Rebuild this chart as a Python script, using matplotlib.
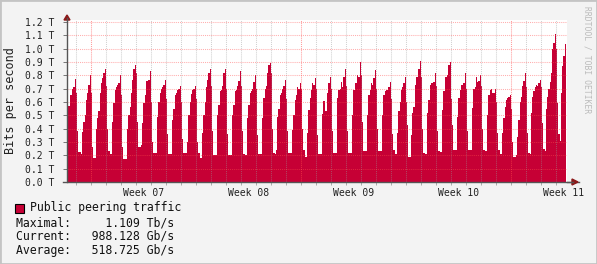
import matplotlib.pyplot as plt
import numpy as np
from matplotlib.patches import Polygon, Rectangle

# 2-hour samples, one row per day (starts right after the evening peak, ends on the peak)
first_part = [0.54, 0.57, 0.65, 0.65, 0.70, 0.71, 0.77]
days = [
    [0.67, 0.38, 0.225, 0.225, 0.21, 0.375, 0.45, 0.50, 0.615, 0.67, 0.73, 0.80],
    [0.67, 0.26, 0.18, 0.18, 0.40, 0.48, 0.53, 0.665, 0.74, 0.78, 0.815, 0.85],
    [0.72, 0.40, 0.23, 0.21, 0.21, 0.45, 0.59, 0.69, 0.715, 0.73, 0.74, 0.80],
    [0.65, 0.26, 0.17, 0.17, 0.17, 0.40, 0.50, 0.565, 0.67, 0.765, 0.85, 0.88],
    [0.82, 0.45, 0.265, 0.265, 0.28, 0.44, 0.59, 0.65, 0.76, 0.76, 0.765, 0.83],
    [0.60, 0.30, 0.215, 0.215, 0.215, 0.49, 0.60, 0.67, 0.70, 0.715, 0.73, 0.765],
    [0.62, 0.36, 0.21, 0.21, 0.21, 0.465, 0.55, 0.65, 0.665, 0.69, 0.70, 0.72],
    [0.60, 0.32, 0.215, 0.215, 0.215, 0.30, 0.50, 0.60, 0.66, 0.69, 0.70, 0.72],
    [0.62, 0.30, 0.22, 0.18, 0.18, 0.37, 0.50, 0.60, 0.715, 0.765, 0.815, 0.85],
    [0.72, 0.38, 0.205, 0.205, 0.205, 0.50, 0.58, 0.68, 0.69, 0.72, 0.815, 0.85],
    [0.70, 0.36, 0.205, 0.205, 0.205, 0.50, 0.58, 0.68, 0.69, 0.72, 0.755, 0.83],
    [0.72, 0.38, 0.21, 0.205, 0.205, 0.48, 0.58, 0.67, 0.68, 0.70, 0.75, 0.80],
    [0.70, 0.35, 0.21, 0.21, 0.21, 0.48, 0.63, 0.70, 0.72, 0.82, 0.875, 0.895],
    [0.815, 0.40, 0.22, 0.21, 0.24, 0.49, 0.55, 0.65, 0.67, 0.70, 0.72, 0.765],
    [0.62, 0.38, 0.22, 0.22, 0.22, 0.39, 0.50, 0.615, 0.65, 0.715, 0.70, 0.74],
    [0.70, 0.40, 0.24, 0.19, 0.19, 0.37, 0.54, 0.63, 0.69, 0.74, 0.73, 0.78],
    [0.70, 0.35, 0.21, 0.21, 0.21, 0.51, 0.61, 0.53, 0.53, 0.67, 0.74, 0.79],
    [0.70, 0.38, 0.22, 0.22, 0.22, 0.63, 0.69, 0.70, 0.75, 0.715, 0.79, 0.85],
    [0.72, 0.38, 0.22, 0.22, 0.22, 0.50, 0.69, 0.74, 0.745, 0.80, 0.79, 0.90],
    [0.80, 0.45, 0.23, 0.23, 0.23, 0.50, 0.65, 0.69, 0.74, 0.73, 0.78, 0.84],
    [0.70, 0.40, 0.23, 0.23, 0.23, 0.50, 0.65, 0.68, 0.69, 0.69, 0.71, 0.75],
    [0.62, 0.36, 0.24, 0.21, 0.21, 0.37, 0.53, 0.60, 0.69, 0.715, 0.74, 0.79],
    [0.60, 0.43, 0.19, 0.19, 0.35, 0.52, 0.565, 0.73, 0.79, 0.79, 0.85, 0.91],
    [0.79, 0.40, 0.215, 0.21, 0.21, 0.52, 0.615, 0.73, 0.74, 0.745, 0.75, 0.82],
    [0.72, 0.38, 0.23, 0.225, 0.225, 0.54, 0.68, 0.79, 0.79, 0.80, 0.875, 0.90],
    [0.62, 0.43, 0.24, 0.24, 0.24, 0.49, 0.63, 0.69, 0.73, 0.73, 0.74, 0.815],
    [0.70, 0.38, 0.24, 0.24, 0.24, 0.555, 0.70, 0.715, 0.79, 0.75, 0.755, 0.80],
    [0.72, 0.40, 0.24, 0.235, 0.235, 0.50, 0.65, 0.69, 0.695, 0.67, 0.67, 0.70],
    [0.60, 0.37, 0.24, 0.21, 0.21, 0.37, 0.48, 0.565, 0.615, 0.63, 0.64, 0.65],
    [0.55, 0.30, 0.19, 0.19, 0.20, 0.34, 0.465, 0.60, 0.64, 0.72, 0.76, 0.815],
    [0.71, 0.37, 0.215, 0.21, 0.52, 0.64, 0.68, 0.715, 0.73, 0.72, 0.745, 0.765],
    [0.715, 0.445, 0.25, 0.235, 0.545, 0.64, 0.70, 0.75, 0.815, 1.0, 1.04, 1.11],
]
last_part = [1.0, 0.595, 0.36, 0.31, 0.67, 0.87, 0.945, 1.035]

week_labels = ['Week 07', 'Week 08', 'Week 09', 'Week 10', 'Week 11']
legend_name = 'Public peering traffic'
stat_lines = ['Maximal:     1.109 Tb/s',
              'Current:   988.128 Gb/s',
              'Average:   518.725 Gb/s']

traffic = np.array(first_part + [v for d in days for v in d] + last_part)
edges = np.arange(len(traffic) + 1) / 12.0  # days

W, H = 597, 264
fig = plt.figure(figsize=(W / 100, H / 100), dpi=100)
fig.patch.set_facecolor('#f3f3f3')
ax = fig.add_axes([67 / W, 82 / H, 500 / W, 162 / H])
ax.set_facecolor('white')

red = '#c60035'
ax.stairs(traffic, edges, fill=True, color=red, zorder=2)

ax.set_xlim(0, 500 / 15)
ax.set_ylim(0, 1.215)

# grid
first_midnight = 7 / 12.0
day_lines = first_midnight + np.arange(0, 33)
major_lines = day_lines[1::14]
grid_kw = dict(lw=0.75, ls=(0, (1, 1)), zorder=3)
for x in day_lines:
    if x in major_lines:
        ax.axvline(x, color=(1.0, 0.3, 0.3, 0.55), **grid_kw)
    else:
        ax.axvline(x, color=(0.6, 0.6, 0.6, 0.45), **grid_kw)
yt = np.arange(0, 13) / 10
for y in yt[1:]:
    ax.axhline(y, color=(1.0, 0.3, 0.3, 0.45), **grid_kw)

mono = 'DejaVu Sans Mono'
ax.set_yticks(yt)
ax.set_yticklabels([f'{v:.1f} T' for v in yt], family=mono, fontsize=7, color='#222222')
ax.tick_params(axis='y', length=3, width=0.7, color='#777777', pad=6)
label_pos = first_midnight + 4.5 + 7 * np.arange(len(week_labels))
ax.set_xticks(label_pos)
ax.set_xticklabels(week_labels, family=mono, fontsize=7, color='#222222')
ax.tick_params(axis='x', length=0, pad=4)
ax.set_xticks(day_lines, minor=True)
ax.tick_params(axis='x', which='minor', length=2, width=0.7, color='#aaaaaa')

for s in ['top', 'right']:
    ax.spines[s].set_visible(False)
for s in ['left', 'bottom']:
    ax.spines[s].set_color('#555555')
    ax.spines[s].set_linewidth(1.0)
    ax.spines[s].set_zorder(4)
ax.spines['bottom'].set_bounds(-0.25, 34.1)

ax.set_ylabel('Bits per second', family=mono, fontsize=8.5, color='#222222', labelpad=6)

# axis arrows (figure pixel coords)
arrow_c = '#8b1a1a'
fig.add_artist(Polygon([[67, 249], [64, 244], [70, 244]], closed=True, color=arrow_c,
                       transform=None))
fig.add_artist(Polygon([[578, 82], [572, 85], [572, 79]], closed=True, color=arrow_c,
                       transform=None))
fig.add_artist(plt.Line2D([567, 573], [82, 82], color='#555555', lw=1.0, transform=None))
fig.add_artist(plt.Line2D([67, 67], [244, 246], color='#555555', lw=1.0, transform=None))

# legend block
fig.add_artist(Rectangle((15 / W, (H - 213) / H), 9 / W, 9 / H, facecolor=red,
                         edgecolor='black', lw=0.8))
fig.text(30 / W, (H - 208) / H, legend_name, family=mono, fontsize=8.3, va='center',
         color='#111111')
for i, line in enumerate(stat_lines):
    fig.text(16 / W, (H - 222.5 - 13.8 * i) / H, line, family=mono, fontsize=8.3,
             va='center', color='#111111')

fig.text(587 / W, (H - 60) / H, 'RRDTOOL / TOBI OETIKER', family=mono, fontsize=5.8,
         rotation=270, ha='center', va='center', color='#bbbbbb')

fig.add_artist(Rectangle((0, 0), 1, 1, transform=fig.transFigure, fill=False,
                         edgecolor='#c4c4c4', lw=2.0))

fig.savefig('out.png', dpi=100, facecolor=fig.get_facecolor())
